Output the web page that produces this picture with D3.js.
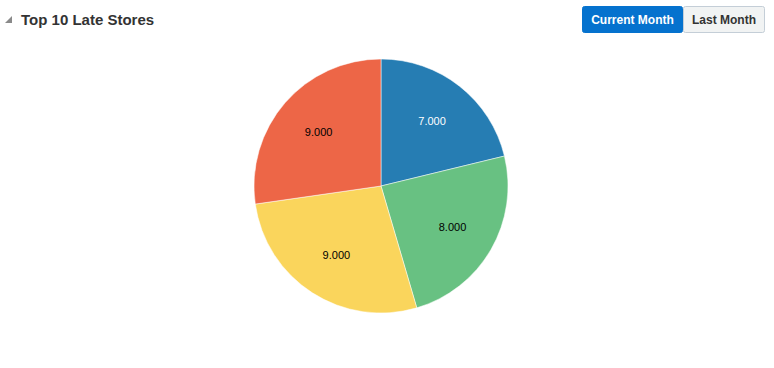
<!DOCTYPE html>
<html>
<head>
<meta charset="utf-8">
<script src="https://cdn.jsdelivr.net/npm/d3@7"></script>
<style>
  body { margin: 0; background: #fff; font-family: "Helvetica Neue", Arial, "Liberation Sans", sans-serif; }
</style>
</head>
<body>
<svg id="chart" width="774" height="368"></svg>
<script>
// Chart values
var categories = ["Store A", "Store B", "Store C", "Store D"];
var values = [7, 8, 9, 9];
var labels = ["7.000", "8.000", "9.000", "9.000"];
var colors = ["#267db3", "#68c182", "#fad55c", "#ed6647"];
var labelColors = ["#ffffff", "#000000", "#000000", "#000000"];
var buttons = ["Current Month", "Last Month"];

var svg = d3.select("#chart");

// Header: collapse triangle and title
svg.append("path")
    .attr("d", "M5,23 L12,16 L12,23 Z")
    .style("fill", "#8a8a8a");
svg.append("text")
    .attr("x", 21)
    .attr("y", 25)
    .text("Top 10 Late Stores")
    .style("font-family", "Liberation Sans, Arial, sans-serif")
    .style("font-weight", "bold")
    .style("font-size", "15px")
    .style("fill", "#333");

// Toggle buttons
var btnX = [582, 683], btnW = [101, 82];
buttons.forEach(function (b, i) {
    svg.append("rect")
        .attr("x", btnX[i] + 0.5)
        .attr("y", 6.5)
        .attr("width", btnW[i] - 1)
        .attr("height", 26)
        .attr("rx", 2)
        .style("fill", i === 0 ? "#0572ce" : "#f1f3f3")
        .style("stroke", i === 0 ? "#0572ce" : "#c4ced7");
    svg.append("text")
        .attr("x", btnX[i] + btnW[i] / 2)
        .attr("y", 24)
        .attr("text-anchor", "middle")
        .text(b)
        .style("font-family", "Liberation Sans, Arial, sans-serif")
        .style("font-weight", "bold")
        .style("font-size", "12px")
        .style("fill", i === 0 ? "#ffffff" : "#333333");
});

// Pie
var cx = 381, cy = 186, radius = 127;
var pie = d3.pie().sort(null).value(function (d) { return d; });
var arc = d3.arc().innerRadius(0).outerRadius(radius);
var labelArc = d3.arc().innerRadius(radius * 0.65).outerRadius(radius * 0.65);

var g = svg.append("g").attr("transform", "translate(" + cx + "," + cy + ")");
var slices = g.selectAll(".slice")
    .data(pie(values))
    .enter()
    .append("g")
        .attr("class", "slice");

slices.append("path")
    .attr("d", arc)
    .style("fill", function (d, i) { return colors[i]; })
    .style("stroke", "#ffffff")
    .style("stroke-width", 0.5);

slices.append("text")
    .attr("transform", function (d) { return "translate(" + labelArc.centroid(d) + ")"; })
    .attr("dy", "0.35em")
    .attr("text-anchor", "middle")
    .text(function (d, i) { return labels[i]; })
    .style("font-family", "Liberation Sans, Arial, sans-serif")
    .style("font-size", "11px")
    .style("fill", function (d, i) { return labelColors[i]; });
</script>
</body>
</html>
